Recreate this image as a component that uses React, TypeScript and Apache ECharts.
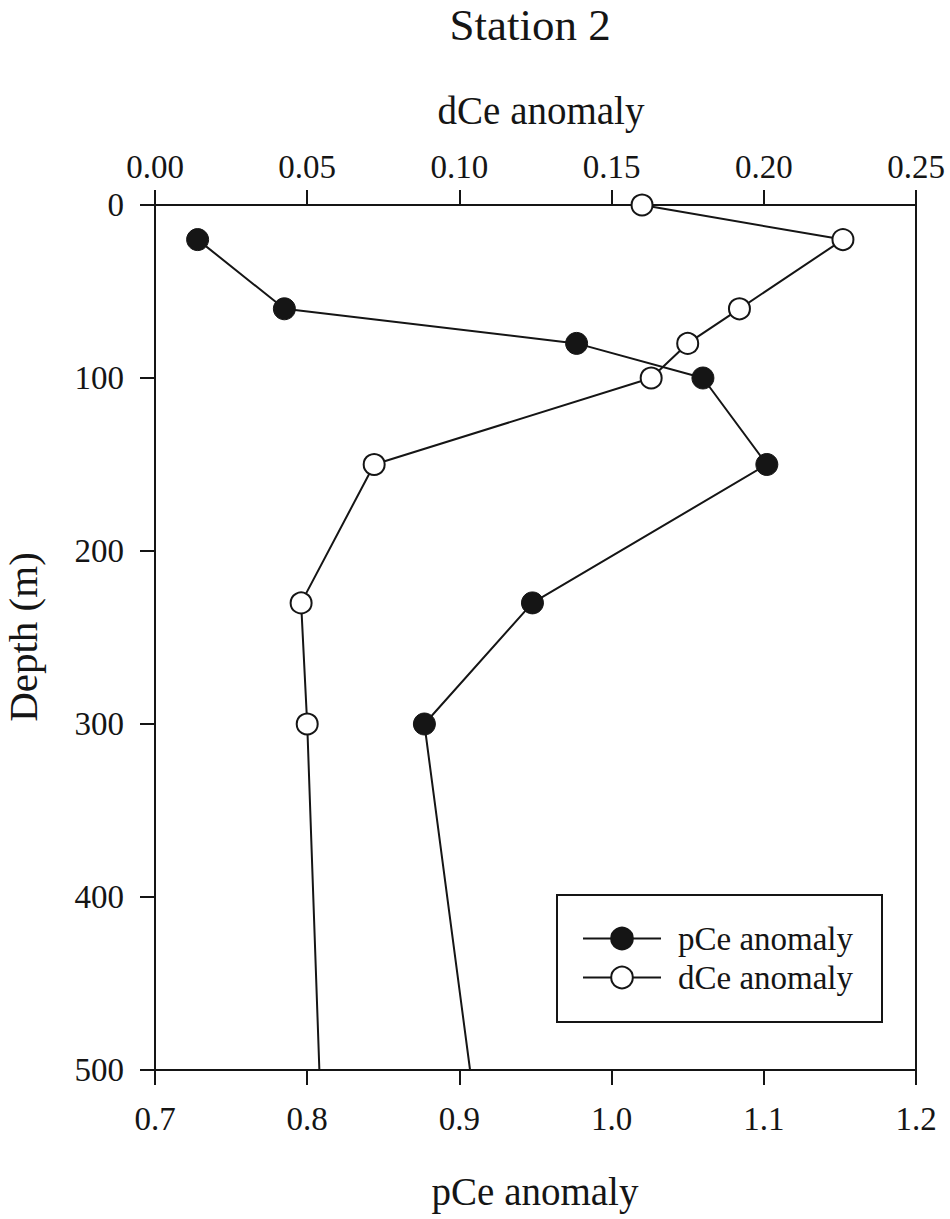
import React, { useEffect, useRef } from "react";
import * as echarts from "echarts";

const depthP = [20, 60, 80, 100, 150, 230, 300, 500];
const pCe = [0.728, 0.785, 0.977, 1.060, 1.102, 0.948, 0.877, 0.907];
const depthD = [0, 20, 60, 80, 100, 150, 230, 300, 500];
const dCe = [0.160, 0.226, 0.192, 0.175, 0.163, 0.072, 0.048, 0.050, 0.054];

const bottomTicks = { min: 0.7, max: 1.2, interval: 0.1 };
const topTicks = { min: 0, max: 0.25, interval: 0.05 };
const depthTicks = { min: 0, max: 500, interval: 100 };

const FONT = "'Liberation Serif', 'Times New Roman', serif";
const INK = "#151515";

export default function App() {
  const ref = useRef<HTMLDivElement>(null);
  useEffect(() => {
    if (!ref.current) return;
    const chart = echarts.init(ref.current, undefined, { renderer: "svg" });

    const pData = pCe.map((v, i) =>
      i === pCe.length - 1 ? { value: [v, depthP[i]], symbol: "none" } : { value: [v, depthP[i]] }
    );
    const dData = dCe.map((v, i) =>
      i === dCe.length - 1 ? { value: [v, depthD[i]], symbol: "none" } : { value: [v, depthD[i]] }
    );

    const axisCommon = {
      axisLine: { show: true, onZero: false, lineStyle: { color: INK, width: 2 } },
      axisTick: { show: true, inside: false, length: 15, lineStyle: { color: INK, width: 2 } },
      splitLine: { show: false },
    };

    chart.setOption({
      animation: false,
      backgroundColor: "#ffffff",
      grid: {
        left: 155,
        right: 34,
        top: 205,
        bottom: 149,
        show: true,
        borderColor: INK,
        borderWidth: 2,
        backgroundColor: "transparent",
      },
      xAxis: [
        {
          type: "value",
          position: "bottom",
          ...bottomTicks,
          ...axisCommon,
          axisLabel: {
            margin: 32,
            fontSize: 33,
            fontFamily: FONT,
            color: INK,
            formatter: (v: number) => v.toFixed(1),
          },
        },
        {
          type: "value",
          position: "top",
          ...topTicks,
          ...axisCommon,
          axisLabel: {
            margin: 22,
            fontSize: 33,
            fontFamily: FONT,
            color: INK,
            formatter: (v: number) => v.toFixed(2),
          },
        },
      ],
      yAxis: [
        {
          type: "value",
          inverse: true,
          ...depthTicks,
          ...axisCommon,
          axisLabel: {
            margin: 31,
            fontSize: 33,
            fontFamily: FONT,
            color: INK,
          },
        },
      ],
      legend: {
        show: true,
        orient: "vertical",
        left: 582,
        top: 922,
        padding: 0,
        itemWidth: 78,
        itemHeight: 27,
        itemGap: 6,
        textStyle: { fontSize: 33, fontFamily: FONT, color: INK, padding: [0, 0, 0, 12] },
        data: ["pCe anomaly", "dCe anomaly"],
      },
      graphic: [
        {
          type: "rect",
          shape: { x: 557, y: 895, width: 325, height: 127 },
          style: { fill: "#ffffff", stroke: INK, lineWidth: 2 },
          z: 3,
        },
        {
          type: "text",
          x: 530,
          y: 25,
          style: {
            text: "Station 2",
            fontSize: 45,
            fontFamily: FONT,
            fill: INK,
            textAlign: "center",
            textVerticalAlign: "middle",
          },
        },
        {
          type: "text",
          x: 541,
          y: 110,
          style: {
            text: "dCe anomaly",
            fontSize: 39,
            fontFamily: FONT,
            fill: INK,
            textAlign: "center",
            textVerticalAlign: "middle",
          },
        },
        {
          type: "text",
          x: 535,
          y: 1191,
          style: {
            text: "pCe anomaly",
            fontSize: 39,
            fontFamily: FONT,
            fill: INK,
            textAlign: "center",
            textVerticalAlign: "middle",
          },
        },
        {
          type: "text",
          x: 23,
          y: 637,
          rotation: Math.PI / 2,
          style: {
            text: "Depth (m)",
            fontSize: 41,
            fontFamily: FONT,
            fill: INK,
            textAlign: "center",
            textVerticalAlign: "middle",
          },
        },
      ],
      series: [
        {
          name: "pCe anomaly",
          type: "line",
          xAxisIndex: 0,
          yAxisIndex: 0,
          data: pData,
          clip: false,
          symbol: "circle",
          symbolSize: 22,
          lineStyle: { color: INK, width: 2 },
          itemStyle: { color: INK, borderColor: INK, borderWidth: 1 },
          z: 5,
        },
        {
          name: "dCe anomaly",
          type: "line",
          xAxisIndex: 1,
          yAxisIndex: 0,
          data: dData,
          clip: false,
          symbol: "circle",
          symbolSize: 21,
          lineStyle: { color: INK, width: 2 },
          itemStyle: { color: "#ffffff", borderColor: INK, borderWidth: 2 },
          z: 5,
        },
      ],
    });
    return () => chart.dispose();
  }, []);

  return (
    <div
      ref={ref}
      style={{ position: "absolute", left: 0, top: 0, width: 950, height: 1219 }}
    />
  );
}
